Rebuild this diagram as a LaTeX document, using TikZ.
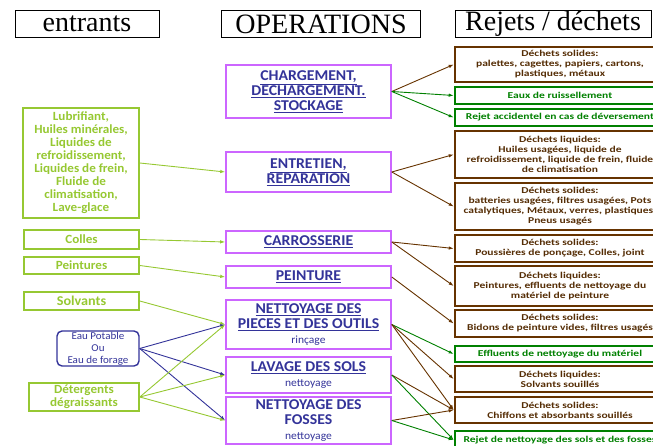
\documentclass[tikz,border=0pt]{standalone}
\usepackage{fontspec}
\setmainfont{Liberation Serif}
\newfontfamily\calib[FakeStretch=1.05]{Carlito}
\newfontfamily\calibw[FakeStretch=1.28]{Carlito}
\usetikzlibrary{arrows.meta}
\definecolor{leafgreen}{RGB}{150,200,50}
\definecolor{opviolet}{RGB}{204,102,255}
\definecolor{opblue}{RGB}{51,51,153}
\definecolor{wastebrown}{RGB}{102,51,0}
\definecolor{wastetext}{RGB}{85,45,5}
\definecolor{wastegreen}{RGB}{0,128,0}

\begin{document}
\begin{tikzpicture}[x=1pt,y=-1pt,
        every node/.style={inner sep=0pt,align=center},
        headbox/.style={draw=black,line width=0.8pt,minimum height=27pt,font=\fontsize{28}{28}\selectfont},
        inbox/.style={draw=leafgreen,line width=1.6pt,text=leafgreen,font=\calib\bfseries\fontsize{12.5}{13}\selectfont},
        waterbox/.style={draw=opblue,line width=1.4pt,rounded corners=5pt,text=opblue,font=\calib\fontsize{10.5}{12}\selectfont},
        opbox/.style={draw=opviolet,line width=1.6pt,minimum width=165pt,text=opblue,font=\calib\bfseries\fontsize{15}{15}\selectfont},
        wastebox/.style={draw=wastebrown,line width=2.6pt,minimum width=210pt,text=wastetext,font=\calibw\bfseries\fontsize{9}{10}\selectfont},
        rejectbox/.style={draw=wastegreen,line width=2.6pt,minimum width=210pt,text=wastegreen,font=\calibw\bfseries\fontsize{9}{10}\selectfont},
        inarrow/.style={draw=leafgreen,line width=0.9pt,-{Latex[length=5pt,width=3.5pt]}},
        waterarrow/.style={draw=opblue,line width=0.9pt,-{Latex[length=5pt,width=3.5pt]}},
        wastearrow/.style={draw=wastebrown,line width=0.9pt,-{Latex[length=5pt,width=3.5pt]}},
        rejectarrow/.style={draw=wastegreen,line width=0.9pt,-{Latex[length=5pt,width=3.5pt]}}]
        \clip (0,0) rectangle (653,446);
        \node[headbox,minimum width=144pt] (hin) at (87,24) {entrants};
        \node[headbox,minimum width=199pt] (hop) at (321,24) {OPERATIONS};
        \node[headbox,minimum width=196pt] (hout) at (553,24) {Rejets / déchets};
        \node[inbox,minimum width=116pt,minimum height=110pt] (lubri) at (81,163) {Lubrifiant,\\Huiles minérales,\\Liquides de\\refroidissement,\\Liquides de frein,\\Fluide de\\climatisation,\\Lave-glace};
        \node[inbox,minimum width=115pt,minimum height=19pt] (colles) at (81.5,239.5) {Colles};
        \node[inbox,minimum width=115pt,minimum height=17pt] (peintures) at (81.5,265.5) {Peintures};
        \node[inbox,minimum width=115pt,minimum height=18pt,font=\calib\bfseries\fontsize{13.5}{14}\selectfont] (solvants) at (81.5,301) {Solvants};
        \node[waterbox,minimum width=82pt,minimum height=35pt] (eau) at (98,348.5) {Eau Potable\\Ou\\Eau de forage};
        \node[inbox,minimum width=110pt,minimum height=28pt] (deterg) at (84,397) {Détergents\\dégraissants};
        \node[opbox,minimum height=53pt] (charg) at (308.5,91.5) {\underline{CHARGEMENT,}\\\underline{DECHARGEMENT.}\\\underline{STOCKAGE}};
        \node[opbox,minimum height=40pt] (entret) at (308.5,172) {\underline{ENTRETIEN,}\\\underline{REPARATION}};
        \node[opbox,minimum height=22pt] (carros) at (308.5,242) {\underline{CARROSSERIE}};
        \node[opbox,minimum height=22pt] (peint) at (308.5,277) {\underline{PEINTURE}};
        \node[opbox,minimum height=49pt] (pieces) at (308.5,324.5) {\underline{NETTOYAGE DES}\\\underline{PIECES ET DES OUTILS}\\{\mdseries\fontsize{11}{13}\selectfont rinçage}};
        \node[opbox,minimum height=36pt] (lavage) at (308.5,375) {\underline{LAVAGE DES SOLS}\\{\mdseries\fontsize{11}{13}\selectfont nettoyage}};
        \node[opbox,minimum height=47pt] (fosses) at (308.5,420.5) {NETTOYAGE DES\\FOSSES\\{\mdseries\fontsize{11}{13}\selectfont nettoyage}};
        \node[wastebox,minimum height=35pt] (palettes) at (560,64.5) {Déchets solides:\\palettes, cagettes, papiers, cartons,\\plastiques, métaux};
        \node[rejectbox,minimum height=17pt] (ruissel) at (560,95.5) {Eaux de ruissellement};
        \node[rejectbox,minimum height=17pt] (accident) at (560,117.5) {Rejet accidentel en cas de déversement};
        \node[wastebox,minimum height=47pt] (huiles) at (560,154.5) {Déchets liquides:\\Huiles usagées, liquide de\\refroidissement, liquide de frein, fluide\\de climatisation};
        \node[wastebox,minimum height=47pt] (batter) at (560,206.5) {Déchets solides:\\batteries usagées, filtres usagées, Pots\\catalytiques, Métaux, verres, plastiques,\\Pneus usagés};
        \node[wastebox,minimum height=27pt] (pouss) at (560,248.5) {Déchets solides:\\Poussières de ponçage, Colles, joint};
        \node[wastebox,minimum height=40pt] (effpeint) at (560,286) {Déchets liquides:\\Peintures, effluents de nettoyage du\\matériel de peinture};
        \node[wastebox,minimum height=27pt] (bidons) at (560,323.5) {Déchets solides:\\Bidons de peinture vides, filtres usagés};
        \node[rejectbox,minimum height=16pt] (effmat) at (560,354) {Effluents de nettoyage du matériel};
        \node[wastebox,minimum height=26pt] (solvsou) at (560,379) {Déchets liquides:\\Solvants souillés};
        \node[wastebox,minimum height=26pt] (chiffons) at (560,410) {Déchets solides:\\Chiffons et absorbants souillés};
        \node[rejectbox,minimum height=18pt] (rejnet) at (560,440) {Rejet de nettoyage des sols et des fosses};
        \draw[inarrow] (lubri.east) -- (entret.west);
        \draw[inarrow] (colles.east) -- (carros.west);
        \draw[inarrow] (peintures.east) -- (peint.west);
        \draw[inarrow] (solvants.east) -- (pieces.west);
        \draw[waterarrow] (eau.east) -- (pieces.west);
        \draw[waterarrow] (eau.east) -- (lavage.west);
        \draw[waterarrow] (eau.east) -- (fosses.west);
        \draw[inarrow] (deterg.east) -- (pieces.west);
        \draw[inarrow] (deterg.east) -- (lavage.west);
        \draw[inarrow] (deterg.east) -- (fosses.west);
        \draw[wastearrow] (charg.east) -- (palettes.west);
        \draw[rejectarrow] (charg.east) -- (ruissel.west);
        \draw[rejectarrow] (charg.east) -- (accident.west);
        \draw[wastearrow] (entret.east) -- (huiles.west);
        \draw[wastearrow] (entret.east) -- (batter.west);
        \draw[wastearrow] (carros.east) -- (pouss.west);
        \draw[wastearrow] (carros.east) -- (effpeint.west);
        \draw[wastearrow] (peint.east) -- (bidons.west);
        \draw[rejectarrow] (pieces.east) -- (effmat.west);
        \draw[wastearrow] (pieces.east) -- (solvsou.west);
        \draw[wastearrow] (pieces.east) -- (chiffons.west);
        \draw[wastearrow] (lavage.east) -- (chiffons.west);
        \draw[rejectarrow] (lavage.east) -- (rejnet.west);
        \draw[wastearrow] (fosses.east) -- (chiffons.west);
        \draw[rejectarrow] (fosses.east) -- (rejnet.west);
\end{tikzpicture}
\end{document}
